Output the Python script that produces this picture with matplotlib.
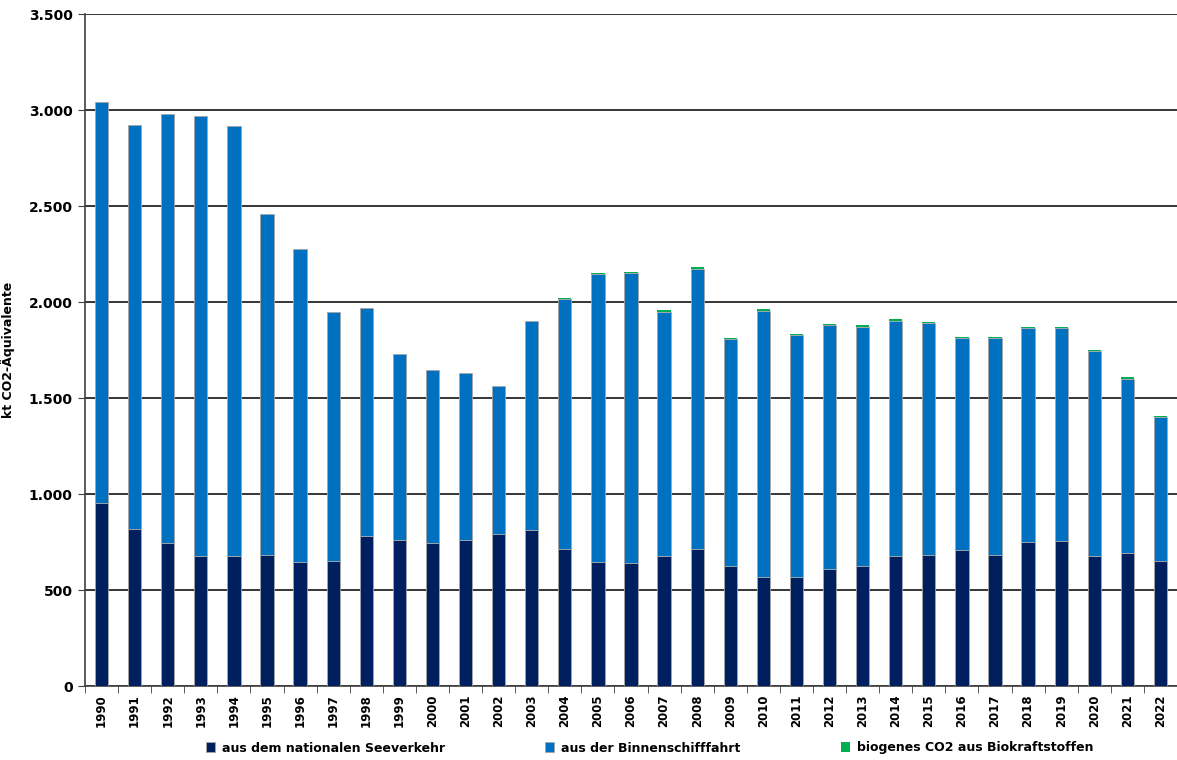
import matplotlib.pyplot as plt
import numpy as np
from matplotlib.ticker import FuncFormatter

# data (kt CO2-Äquivalente)
years = [str(y) for y in range(1990, 2023)]
seeverkehr = [955, 818, 743, 677, 677, 682, 646, 651, 781, 760, 743, 760, 793, 812, 715,
              646, 640, 677, 715, 625, 566, 566, 611, 625, 677, 682, 708, 682, 748, 755,
              677, 691, 651]
gesamt = [3040, 2924, 2981, 2969, 2917, 2457, 2276, 1948, 1967, 1729, 1644, 1632, 1561, 1903, 2021,
          2150, 2155, 1956, 2181, 1811, 1962, 1833, 1885, 1878, 1909, 1896, 1820, 1820, 1870, 1870,
          1750, 1608, 1408]
biogen = [0, 0, 0, 0, 0, 0, 0, 0, 0, 0, 0, 0, 0, 0, 4,
          6, 6, 6, 7, 6, 7, 6, 6, 6, 7, 6, 5, 5, 6, 6,
          6, 8, 7]
binnen = [g - s - b for g, s, b in zip(gesamt, seeverkehr, biogen)]

labels = ["aus dem nationalen Seeverkehr", "aus der Binnenschifffahrt",
          "biogenes CO2 aus Biokraftstoffen"]
colors = ["#001F5F", "#0070C0", "#00B050"]

plt.rcParams['font.family'] = ['DejaVu Sans']

fig = plt.figure(figsize=(11.77, 7.6), dpi=100)
ax = fig.add_axes([85 / 1177, 1 - 686 / 760, 1 - 85 / 1177, (686 - 14) / 760])

x = np.arange(len(years))
w = 0.4
edge = dict(edgecolor="#a6a6a6", linewidth=0.6)
ax.bar(x, seeverkehr, w, color=colors[0], label=labels[0], zorder=3, **edge)
ax.bar(x, binnen, w, bottom=seeverkehr, color=colors[1], label=labels[1], zorder=3, **edge)
bottom2 = [s + b for s, b in zip(seeverkehr, binnen)]
# green cap drawn above the grey bar outlines so it stays visible
ax.bar(x, biogen, w, bottom=bottom2, color=colors[2], label=labels[2], zorder=4, linewidth=0)

ax.set_xlim(-0.5, len(years) - 0.5)
ax.set_ylim(0, 3500)
ax.set_yticks(np.arange(0, 3501, 500))
ax.yaxis.set_major_formatter(FuncFormatter(lambda v, p: f"{int(v):,}".replace(",", ".")))
ax.grid(axis="y", color="#262626", linewidth=1.3, zorder=0)

ax.set_xticks(x)
ax.set_xticklabels(years, rotation=90, fontsize=8.5, fontweight="bold")
ax.set_xticks(np.arange(-0.5, len(years)), minor=True)
ax.tick_params(axis="x", which="major", length=0, pad=6)
ax.tick_params(axis="x", which="minor", length=5, color="#404040", direction="out")
ax.tick_params(axis="y", length=5, color="#404040", labelsize=10, pad=4)
for t in ax.get_yticklabels():
    t.set_fontweight("bold")

for s in ["top", "right"]:
    ax.spines[s].set_visible(False)
ax.spines["left"].set_color("#404040")
ax.spines["bottom"].set_color("#404040")
ax.spines["left"].set_linewidth(1.2)
ax.spines["bottom"].set_linewidth(1.2)

ax.set_ylabel("kt CO2-Äquivalente", fontsize=9, fontweight="bold", labelpad=10)

leg = fig.legend(loc="center", bbox_to_anchor=(0.552, 1 - 748 / 760), ncol=3, frameon=False,
                 handlelength=0.7, handleheight=0.9, handletextpad=0.6, columnspacing=8.0,
                 prop={"weight": "bold", "size": 9})

fig.savefig("out.png", dpi=100, facecolor="white")
